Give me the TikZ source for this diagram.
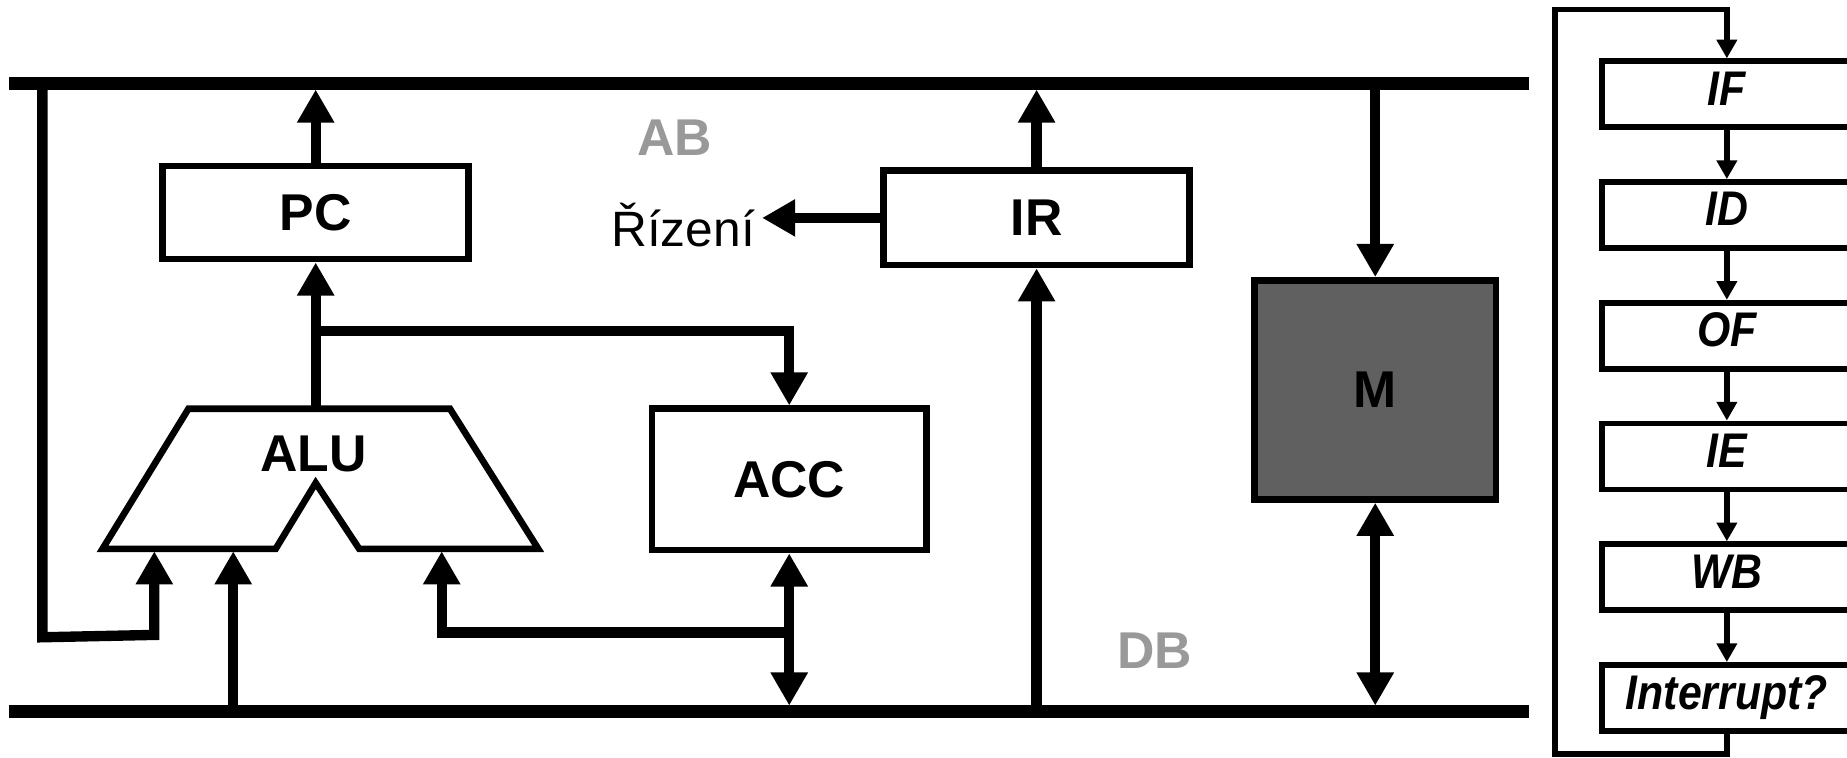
\documentclass[tikz,border=0pt]{standalone}
\usepackage{fontspec}
\setmainfont{Liberation Sans}
\newfontfamily\stagefont[FakeStretch=0.88]{Liberation Sans}
\usetikzlibrary{arrows.meta}
\definecolor{memgray}{RGB}{96,96,96}
\definecolor{busgray}{RGB}{153,153,153}
\tikzset{
  reg/.style={draw,line width=3.2pt,inner sep=0pt,font=\bfseries\fontsize{25}{30}\selectfont},
  stage/.style={draw,line width=2.8pt,inner sep=0pt,minimum width=4.24cm,minimum height=1.12cm,
    text depth=0.2cm,font=\stagefont\bfseries\itshape\fontsize{23.5}{28}\selectfont},
  bus/.style={line width=6pt},
  wire/.style={line width=5pt,-{Triangle[length=16pt,width=17pt]}},
  wires/.style={line width=5pt,{Triangle[length=16pt,width=17pt]}-{Triangle[length=16pt,width=17pt]}},
  stagearrow/.style={line width=2.7pt,-{Triangle[length=9pt,width=9.5pt]}},
  buslbl/.style={text=busgray,font=\bfseries\fontsize{25}{30}\selectfont}
}
\begin{document}
\begin{tikzpicture}[x=0.02cm,y=-0.02cm]
  \useasboundingbox (0,0) rectangle (1568,643.5);
  \draw[bus](8,71)--(1298,71) (8,604)--(1298,604);
  \coordinate (abB) at (0,76);
  \coordinate (dbT) at (0,599);
  \node[buslbl] (ab) at (573,117) {AB};
  \node[buslbl] (db) at (980,552) {DB};
  \node[reg,minimum width=5.2cm,minimum height=1.58cm] (pc) at (268,180.5) {PC};
  \node[reg,minimum width=5.2cm,minimum height=1.6cm] (ir) at (880,185) {IR};
  \node[reg,minimum width=4.66cm,minimum height=2.4cm] (acc) at (670,407) {ACC};
  \node[reg,fill=memgray,minimum width=4.1cm,minimum height=3.72cm] (m) at (1167.5,331) {M};
  \node[anchor=east,font=\fontsize{24}{29}\selectfont] (ctl) at (647,191) {Řízení};
  \draw[line width=3.2pt](160,347)--(382,347)--(457,466)--(305,466)--(268,410)--(234,466)--(87,466)--cycle;
  \node[font=\bfseries\fontsize{25}{30}\selectfont] (alu) at (266,385) {ALU};
  \coordinate (aluOut) at (268,347);
  \coordinate (split) at (268,281);
  \coordinate (in1) at (131,468);
  \coordinate (in2) at (198,468);
  \coordinate (in3) at (375,468);
  \coordinate (accJ) at (670,537);
  \draw[wire](pc.north)--(pc.north|-abB);
  \draw[wire](aluOut)--(pc.south);
  \draw[wire](split)--(split-|acc.north)--(acc.north);
  \draw[wires](acc.south)--(acc.south|-dbT);
  \draw[wire](accJ)--(accJ-|in3)--(in3);
  \draw[wire](in2|-dbT)--(in2);
  \draw[wire](36,71)--(36,541)--(131,539)--(in1);
  \draw[wire](ir.north)--(ir.north|-abB);
  \draw[wire](ir.south|-dbT)--(ir.south);
  \draw[wire](ir.west)--(ir.west-|ctl.east);
  \draw[wire](m.north|-abB)--(m.north);
  \draw[wires](m.south)--(m.south|-dbT);
  \foreach \n/\t [count=\i] in {if/IF,id/ID,of/OF,ie/IE,wb/WB,int/Interrupt?}{
    \node[stage] (\n) at (1466,{80+102.5*(\i-1)}) {\t};
  }
  \foreach \a/\b in {if/id,id/of,of/ie,ie/wb,wb/int}{
    \draw[stagearrow](\a.south)--(\b.north);
  }
  \draw[stagearrow](int.south)|-(1320,640)|-(1466,8)--(if.north);
\end{tikzpicture}
\end{document}
